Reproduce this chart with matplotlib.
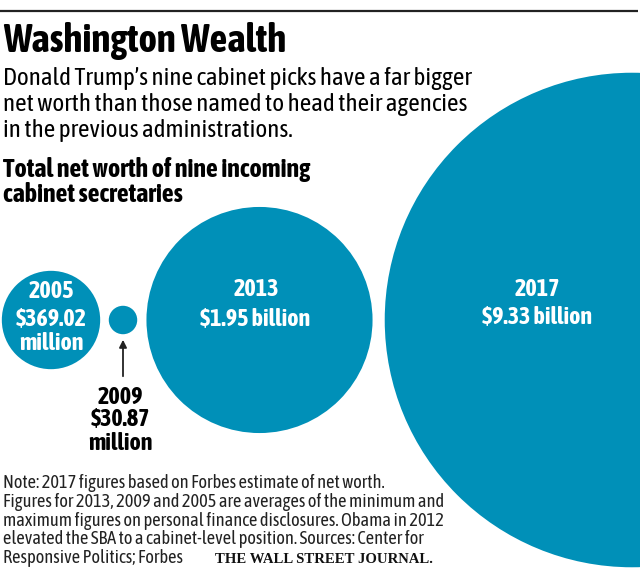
import numpy as np
import matplotlib
matplotlib.use("Agg")
import matplotlib.pyplot as plt
from matplotlib.patches import Circle
from matplotlib import font_manager

years = ["2005", "2009", "2013", "2017"]
net_worth_millions = [369.02, 30.87, 1950.0, 9330.0]
value_lines = [["$369.02", "million"], ["$30.87", "million"],
               ["$1.95 billion"], ["$9.33 billion"]]

title = "Washington Wealth"
subtitle = ["Donald Trump\u2019s nine cabinet picks have a far bigger",
            "net worth than those named to head their agencies",
            "in the previous administrations."]
chart_head = ["Total net worth of nine incoming", "cabinet secretaries"]
note = ["Note: 2017 figures based on Forbes estimate of net worth.",
        "Figures for 2013, 2009 and 2005 are averages of the minimum and",
        "maximum figures on personal finance disclosures. Obama in 2012",
        "elevated the SBA to a cabinet-level position. Sources: Center for",
        "Responsive Politics; Forbes"]

blue = "#0090b8"


def weight_num(w):
    if isinstance(w, (int, float)):
        return int(w)
    return font_manager.weight_dict.get(str(w).lower(), 400)


# pick a narrow sans that has both a regular and a bold cut
fonts = font_manager.fontManager.ttflist
weights = {}
for f in fonts:
    weights.setdefault(f.name, set()).add(weight_num(f.weight))
narrow = [n for n in sorted(weights)
          if ("Narrow" in n or "Condensed" in n)
          and max(weights[n]) >= 600 and 400 in weights[n]]
stretch = "normal"
if narrow:
    sans = [narrow[0], "DejaVu Sans"]
else:
    sans = ["Roboto", "DejaVu Sans"]

fig = plt.figure(figsize=(6.4, 5.7), dpi=100)
ax = fig.add_axes([0, 0, 1, 1])
ax.set_xlim(0, 640)
ax.set_ylim(570, 0)
ax.axis("off")
renderer = fig.canvas.get_renderer()


def fit(texts, ref, width):
    # scale a group of texts so that the reference line has the given width
    w = ref.get_window_extent(renderer).width
    size = ref.get_fontsize() * width / w
    for t in texts:
        t.set_fontsize(size)


# top rule
ax.plot([0, 638], [11, 11], color="#222222", lw=1.6, solid_capstyle="butt")

# headings
t = ax.text(3, 52, title, fontsize=24, fontweight="bold", family=sans,
            va="baseline", ha="left")
fit([t], t, 284)
sub = [ax.text(3, 85 + i * 26, s, fontsize=14, family=sans,
               va="baseline", ha="left") for i, s in enumerate(subtitle)]
fit(sub, sub[0], 469)
head = [ax.text(3, 177 + i * 25, s, fontsize=14, fontweight="bold", family=sans,
                va="baseline", ha="left")
        for i, s in enumerate(chart_head)]
fit(head, head[0], 309)

# circles, area proportional to net worth
px_per_sqrt = 2.56
centers_x = [51, 123, 259.5, 632]
cy = 320
radii = [px_per_sqrt * np.sqrt(v) for v in net_worth_millions]
for x, r in zip(centers_x, radii):
    ax.add_patch(Circle((x, cy), r, facecolor=blue, edgecolor="none"))

lab = dict(family=sans, fontweight="bold", ha="center", va="center")
year_txt = [
    ax.text(51, 291, years[0], color="white", fontsize=12, **lab),
    ax.text(120, 397, years[1], color="black", fontsize=12, **lab),
    ax.text(256, 290, years[2], color="white", fontsize=12, **lab),
    ax.text(537, 289, years[3], color="white", fontsize=12, **lab),
]
fit(year_txt, year_txt[0], 45)
val_txt = [
    ax.text(51, 319, value_lines[0][0], color="white", fontsize=14, **lab),
    ax.text(51, 344, value_lines[0][1], color="white", fontsize=14, **lab),
    ax.text(120, 420, value_lines[1][0], color="black", fontsize=14, **lab),
    ax.text(120, 443, value_lines[1][1], color="black", fontsize=14, **lab),
    ax.text(255, 319, value_lines[2][0], color="white", fontsize=14, **lab),
    ax.text(537, 317, value_lines[3][0], color="white", fontsize=14, **lab),
]
fit(val_txt, val_txt[4], 110)

# 2009 is too small to hold its label: arrow to it from below
ax.annotate("", xy=(123, 337), xytext=(123, 379),
            arrowprops=dict(arrowstyle="-|>", color="#222222", lw=1.3,
                            mutation_scale=11))

# footnote
notes = [ax.text(3, 488 + i * 18.8, s, fontsize=10, family=sans,
                 va="baseline", ha="left", color="#222222")
         for i, s in enumerate(note)]
fit(notes, notes[1], 438)
logo = ax.text(433, 563, "THE WALL STREET JOURNAL.", fontsize=10,
               fontweight="bold", family=["Liberation Serif", "DejaVu Serif"],
               va="baseline", ha="right", color="#111111")
fit([logo], logo, 218)

fig.savefig("out.png", dpi=100)
